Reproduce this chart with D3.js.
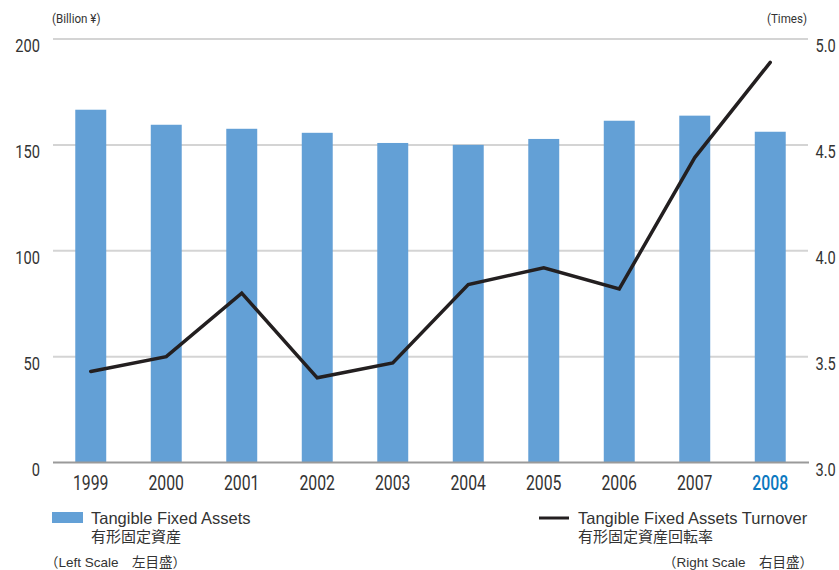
<!DOCTYPE html>
<meta charset="utf-8">
<script src="https://d3js.org/d3.v7.min.js"></script>
<style>
  body { margin: 0; background: #fff; }
  text { fill: #333; }
  .num { font-family: "Roboto", "Liberation Sans", sans-serif; }
  .lab { font-family: "Liberation Sans", "Noto Sans CJK JP", sans-serif; }
</style>
<div id="chart"></div>
<script>
// Tangible fixed assets (bars, left) and turnover (line, right)
const years = ["1999", "2000", "2001", "2002", "2003", "2004", "2005", "2006", "2007", "2008"];
const assets = [166.6, 159.5, 157.6, 155.7, 150.9, 150.0, 152.8, 161.4, 163.8, 156.2];
const turnover = [3.43, 3.50, 3.80, 3.40, 3.47, 3.84, 3.92, 3.82, 4.44, 4.89];
const leftTicks = [0, 50, 100, 150, 200];
const rightTicks = [3.0, 3.5, 4.0, 4.5, 5.0];

const width = 839, height = 570;
const mLeft = 53, mRight = 808, mTop = 39, mBottom = 462.5;
const narrow = 0.77; // squeeze Roboto to look condensed

const svg = d3.select("#chart").append("svg")
    .attr("width", width)
    .attr("height", height);

const x = d3.scaleBand().domain(years).range([mLeft, mRight]).paddingInner(0.59).paddingOuter(0.295);
const y = d3.scaleLinear().domain([0, 200]).range([mBottom, mTop]);
const y2 = d3.scaleLinear().domain([3, 5]).range([mBottom, mTop]);

// gridlines
svg.append("g")
  .selectAll("line")
  .data(leftTicks.filter(d => d > 0))
  .join("line")
    .attr("x1", mLeft).attr("x2", mRight)
    .attr("y1", d => y(d)).attr("y2", d => y(d))
    .style("stroke", "#d4d4d4")
    .style("stroke-width", 2);

// bars
svg.append("g")
  .selectAll("rect")
  .data(assets)
  .join("rect")
    .attr("x", (d, i) => x(years[i]))
    .attr("width", x.bandwidth())
    .attr("y", d => y(d))
    .attr("height", d => y(0) - y(d))
    .style("fill", "#63a0d6");

// baseline
svg.append("line")
    .attr("x1", mLeft).attr("x2", mRight + 1)
    .attr("y1", y(0)).attr("y2", y(0))
    .style("stroke", "#9a9a9a")
    .style("stroke-width", 2);

// turnover line
const line = d3.line()
    .x((d, i) => x(years[i]) + x.bandwidth() / 2)
    .y(d => y2(d));

svg.append("path")
    .datum(turnover)
    .attr("d", line)
    .style("fill", "none")
    .style("stroke", "#231f20")
    .style("stroke-width", 3.5)
    .style("stroke-linejoin", "miter")
    .style("stroke-linecap", "round");

// left axis labels
svg.append("g")
  .selectAll("text")
  .data(leftTicks)
  .join("text")
    .attr("class", "num")
    .attr("transform", d => `translate(40,${y(d) + 13}) scale(${narrow},1)`)
    .attr("text-anchor", "end")
    .style("font-size", "19px")
    .text(d => d);

// right axis labels
svg.append("g")
  .selectAll("text")
  .data(rightTicks)
  .join("text")
    .attr("class", "num")
    .attr("transform", d => `translate(815.5,${y2(d) + 13}) scale(${narrow},1)`)
    .style("font-size", "19px")
    .text(d => d.toFixed(1));

// year labels
svg.append("g")
  .selectAll("text")
  .data(years)
  .join("text")
    .attr("class", "num")
    .attr("transform", d => `translate(${x(d) + x.bandwidth() / 2},490) scale(0.81,1)`)
    .attr("text-anchor", "middle")
    .style("font-size", "19.5px")
    .style("fill", d => d === "2008" ? "#0b78c0" : "#333")
    .style("font-weight", d => d === "2008" ? 500 : 400)
    .text(d => d);

// units
svg.append("text").attr("class", "num")
    .attr("transform", `translate(52,23) scale(0.86,1)`)
    .style("font-size", "13.5px")
    .text("(Billion ¥)");
svg.append("text").attr("class", "num")
    .attr("transform", `translate(807,23) scale(0.86,1)`)
    .attr("text-anchor", "end")
    .style("font-size", "13.5px")
    .text("(Times)");

// legend: bars
svg.append("rect")
    .attr("x", 52).attr("y", 512)
    .attr("width", 31).attr("height", 11)
    .style("fill", "#63a0d6");
svg.append("text").attr("class", "lab")
    .attr("x", 91).attr("y", 524)
    .style("font-size", "16.5px")
    .text("Tangible Fixed Assets");
svg.append("text").attr("class", "lab")
    .attr("x", 91).attr("y", 542)
    .style("font-size", "15px")
    .text("有形固定資産");
svg.append("text").attr("class", "lab")
    .attr("x", 45).attr("y", 567)
    .style("font-size", "13.5px")
    .text("（Left Scale　左目盛）");

// legend: line
svg.append("line")
    .attr("x1", 539).attr("x2", 569)
    .attr("y1", 518).attr("y2", 518)
    .style("stroke", "#231f20")
    .style("stroke-width", 3);
svg.append("text").attr("class", "lab")
    .attr("x", 578).attr("y", 524)
    .style("font-size", "16.5px")
    .text("Tangible Fixed Assets Turnover");
svg.append("text").attr("class", "lab")
    .attr("x", 578).attr("y", 542)
    .style("font-size", "15px")
    .text("有形固定資産回転率");
svg.append("text").attr("class", "lab")
    .attr("x", 813).attr("y", 567)
    .attr("text-anchor", "end")
    .style("font-size", "13.5px")
    .text("（Right Scale　右目盛）");
</script>
